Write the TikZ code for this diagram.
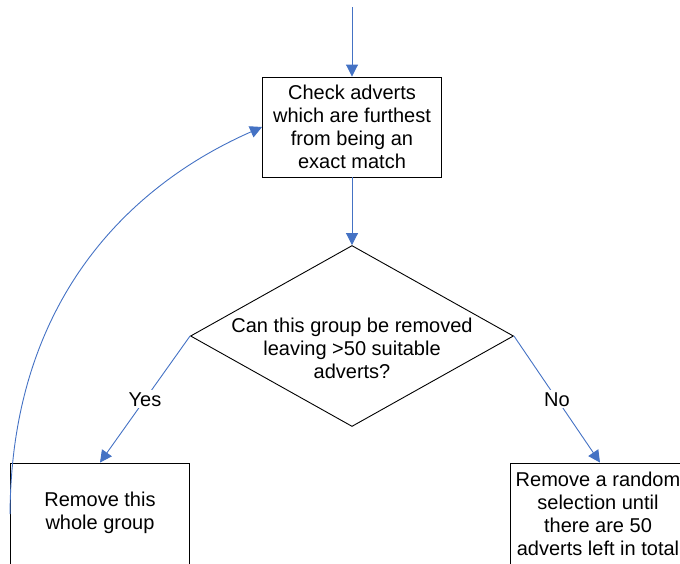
\documentclass[tikz,border=0pt]{standalone}
\usepackage{fontspec}
\setmainfont{Liberation Sans}
\usetikzlibrary{arrows.meta,shapes.geometric}
\definecolor{flowblue}{HTML}{4472C4}
\tikzset{
  stepbox/.style={draw=black, line width=0.9pt, fill=white, rectangle,
    minimum width=179pt, minimum height=100pt, inner sep=0pt, align=center,
    font=\fontsize{20}{23}\selectfont},
  decision/.style={draw=black, line width=0.9pt, diamond, inner sep=0pt,
    minimum width=323pt, minimum height=181pt},
  flowtext/.style={align=center, inner sep=0pt, font=\fontsize{20}{23}\selectfont},
  flow/.style={draw=flowblue, line width=0.9pt, -{Triangle[length=12pt,width=12pt]}},
  branch/.style={fill=white, inner sep=2pt, font=\fontsize{20}{23}\selectfont}
}
\begin{document}
\begin{tikzpicture}[x=1pt, y=-1pt]
  \useasboundingbox (0,0) rectangle (680,563);
  \clip (0,0) rectangle (680,563);

  % boxes and decision
  \node[stepbox] (check) at (352,127) {Check adverts\\which are furthest\\from being an\\exact match};
  \node[decision] (ask) at (352,336) {};
  \node[flowtext] (asktext) at (352,348) {Can this group be removed\\leaving >50 suitable\\adverts?};
  \node[stepbox, minimum height=102pt] (whole) at (100,514) {};
  \node[flowtext] (wholetext) at (100,512.5) {Remove this\\whole group};
  \node[stepbox, minimum height=102pt] (random) at (600,514) {};
  \node[flowtext] (randomtext) at (598,513.5) {Remove a random\\selection until\\there are 50\\adverts left in total};

  % connectors
  \coordinate (entry) at (352,7);
  \draw[flow] (entry) -- (check.north);
  \draw[flow] (check.south) -- (ask.north);
  \draw[flow] (ask.west) -- node[branch] {Yes} (whole.north);
  \draw[flow] (ask.east) -- node[branch] {No} (random.north);
  \draw[flow] (whole.west) .. controls (11,300) and (130,185) .. (check.west);
\end{tikzpicture}
\end{document}
